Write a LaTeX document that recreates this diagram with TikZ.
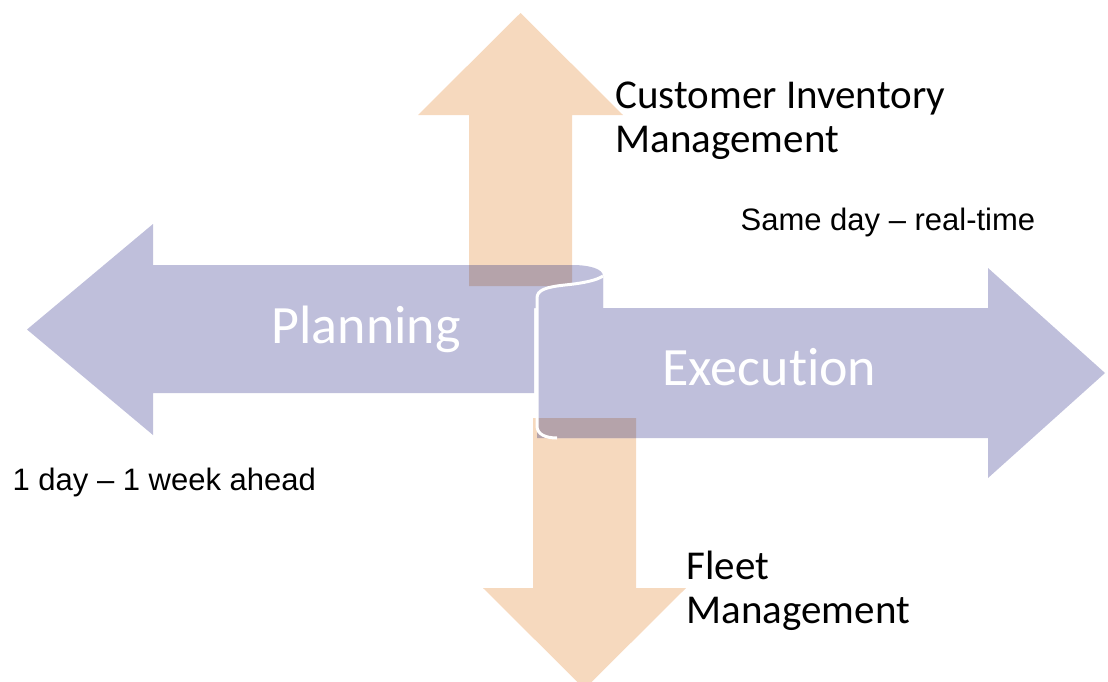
\documentclass[tikz,border=0pt]{standalone}
\usepackage{fontspec}
\setmainfont[Ligatures=NoCommon]{Carlito}
\newfontfamily\arialfont{Liberation Sans}
\definecolor{peach}{HTML}{F6D9BE}
\definecolor{lilac}{HTML}{BFBFDB}
\definecolor{mauve}{HTML}{B5A3AA}
\tikzset{bigword/.style={text=white,font=\fontsize{27}{30}\selectfont,anchor=base west,inner sep=0pt},
sidenote/.style={font=\fontsize{20.5}{22}\selectfont,anchor=base west,inner sep=0pt,align=left},
timenote/.style={font=\arialfont\fontsize{15.5}{18}\selectfont,anchor=base west,inner sep=0pt}}
\begin{document}
\begin{tikzpicture}[x=0.5pt,y=-0.5pt,semithick]
\useasboundingbox(0,0)rectangle(1108,681);
\coordinate(U)at(520.5,13);\coordinate(D)at(584.5,689);
\coordinate(L)at(27,329.5);\coordinate(R)at(1105,373);
\fill[peach](469,286)--(469,115)--(418,115)--(U)--(623,115)--(572,115)--(572,286)--cycle;
\fill[peach](533,418)--(636,418)--(636,588)--(686,588)--(D)--(483,588)--(533,588)--cycle;
\fill[lilac](L)--(153,224)--(153,265)--(572,265)..controls(590,265)and(603,269)..(603,276)
--(603,308)--(534,308)--(534,393)--(153,393)--(153,435)--cycle;
\fill[lilac](537,298)..controls(537,290)and(546,287)..(565,285)..controls(585,283)and(597,280)..(603,276)
--(603,308)--(988,308)--(988,268)--(R)--(988,478)--(988,438)--(557,438)
..controls(545,438)and(537,434)..(537,426)--cycle;
\fill[mauve](469,265)rectangle(572,286)(537,418)rectangle(636,438);
\draw[white,line width=1.5pt](603,276)..controls(597,280)and(585,283)..(565,285)
..controls(546,287)and(537,290)..(537,298)--(537,426)..controls(537,434)and(545,438)..(557,438);
\node[bigword](plan)at(271,343){Planning};
\node[bigword](exec)at(662,385){Execution};
\node[sidenote](cim)at(615,152){Customer Inventory\\Management};
\node[sidenote](fleet)at(686,623){Fleet\\Management};
\node[timenote](sameday)at(740,230){Same day – real-time};
\node[timenote](ahead)at(12,490){1 day – 1 week ahead};
\end{tikzpicture}
\end{document}
